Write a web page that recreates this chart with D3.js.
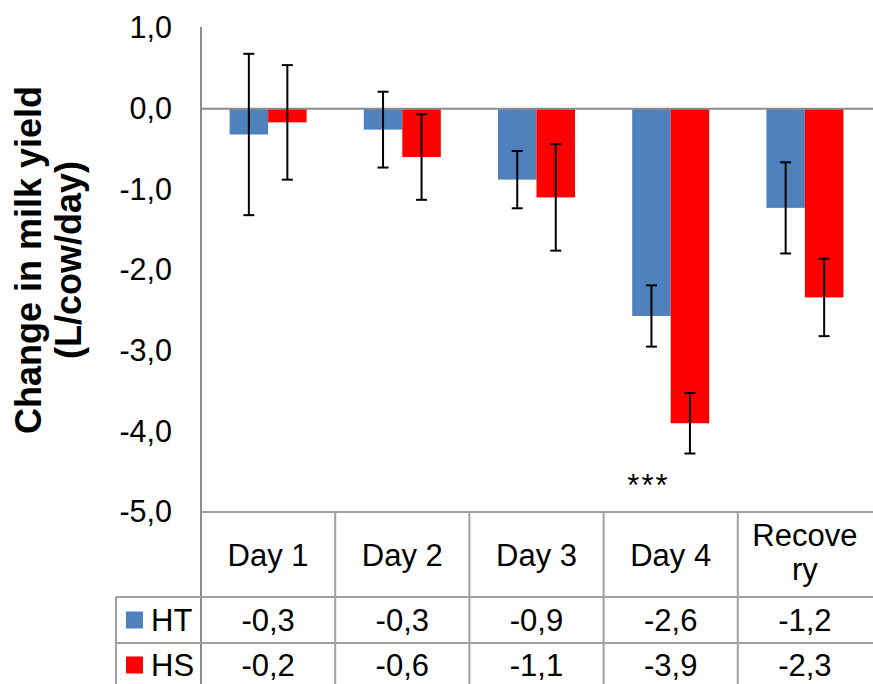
<!DOCTYPE html>
<html>
<head>
<meta charset="utf-8">
<script src="https://cdn.jsdelivr.net/npm/d3@7/dist/d3.min.js"></script>
<style>
  html, body { margin: 0; padding: 0; background: #fff; }
  svg { display: block; }
  text { font-family: "Liberation Sans", Arial, sans-serif; fill: #000; }
</style>
</head>
<body>
<svg id="chart" width="873" height="684"></svg>
<script>
// ---- data ----
const categories = ["Day 1", "Day 2", "Day 3", "Day 4", "Recovery"];
const categoryLabelLines = [["Day 1"], ["Day 2"], ["Day 3"], ["Day 4"], ["Recove", "ry"]];
const seriesNames = ["HT", "HS"];
const seriesColors = ["#4F81BD", "#FF0000"];
const htValues = [-0.32, -0.26, -0.88, -2.57, -1.23];
const hsValues = [-0.17, -0.60, -1.10, -3.90, -2.34];
const htErrors = [1.00, 0.47, 0.355, 0.38, 0.565];
const hsErrors = [0.71, 0.53, 0.66, 0.375, 0.48];
const yTicks = [1, 0, -1, -2, -3, -4, -5];
const yTitleLines = ["Change in milk yield", "(L/cow/day)"];
const annotations = [{ category: "Day 4", series: "HT", value: -4.58, label: "***" }];

// ---- build ----
const seriesValues = [htValues, hsValues];
const seriesErrors = [htErrors, hsErrors];
const rows = [];
seriesNames.forEach((s, si) => {
  categories.forEach((c, ci) => {
    rows.push({ series: s, si, category: c, value: seriesValues[si][ci], err: seriesErrors[si][ci] });
  });
});

const svg = d3.select("#chart");
const plotLeft = 201, plotRight = 872, plotTop = 28, plotBottom = 512;
const tableRows = [512, 597, 643, 689];
const legendLeft = 116;

const locale = d3.formatLocale({ decimal: ",", thousands: ".", grouping: [3], currency: ["", ""], minus: "-" });
const fmt = locale.format(".1f");

const y = d3.scaleLinear().domain([-5, 1]).range([plotBottom, plotTop]);
const x0 = d3.scaleBand().domain(categories).range([plotLeft, plotRight]).padding(0);
const groupW = 77;
const x1 = d3.scaleBand().domain(seriesNames).range([0, groupW]).padding(0);
const groupOffset = (x0.bandwidth() - groupW) / 2;

// bars
svg.append("g").selectAll("rect").data(rows).join("rect")
  .attr("x", d => x0(d.category) + groupOffset + x1(d.series))
  .attr("width", x1.bandwidth())
  .attr("y", d => Math.min(y(0), y(d.value)))
  .attr("height", d => Math.abs(y(d.value) - y(0)))
  .attr("fill", d => seriesColors[d.si]);

// zero line
svg.append("line")
  .attr("x1", plotLeft).attr("x2", 873)
  .attr("y1", y(0)).attr("y2", y(0))
  .attr("stroke", "#8C8C8C").attr("stroke-width", 2);

// error bars
const eb = svg.append("g").attr("stroke", "#000").attr("stroke-width", 2);
rows.forEach(d => {
  const cx = x0(d.category) + groupOffset + x1(d.series) + x1.bandwidth() / 2;
  const yt = y(d.value + d.err), yb = y(d.value - d.err);
  eb.append("line").attr("x1", cx).attr("x2", cx).attr("y1", yt).attr("y2", yb);
  eb.append("line").attr("x1", cx - 5.5).attr("x2", cx + 5.5).attr("y1", yt).attr("y2", yt);
  eb.append("line").attr("x1", cx - 5.5).attr("x2", cx + 5.5).attr("y1", yb).attr("y2", yb);
});

// annotations
annotations.forEach(a => {
  const cx = x0(a.category) + groupOffset + x1(a.series) + x1.bandwidth() / 2 - 3;
  svg.append("text")
    .attr("x", cx).attr("y", y(a.value) + 18)
    .attr("text-anchor", "middle")
    .attr("font-size", 31).attr("letter-spacing", 2)
    .text(a.label);
});

// y axis
const yAxis = svg.append("g")
  .attr("transform", `translate(${plotLeft},0)`)
  .call(d3.axisLeft(y).tickValues(yTicks).tickSize(0).tickPadding(29).tickFormat(fmt));
yAxis.select(".domain").remove();
yAxis.selectAll("text")
  .attr("font-family", "Liberation Sans, Arial, sans-serif")
  .attr("font-size", 30.5).attr("fill", "#000");

// axis line (continues through table)
svg.append("line")
  .attr("x1", plotLeft).attr("x2", plotLeft)
  .attr("y1", plotTop - 1).attr("y2", 684)
  .attr("stroke", "#8C8C8C").attr("stroke-width", 2);

// y title
const yt = svg.append("g").attr("transform", "translate(0,260) rotate(-90)");
yTitleLines.forEach((t, i) => {
  yt.append("text")
    .attr("x", 0).attr("y", 41 + i * 40)
    .attr("text-anchor", "middle")
    .attr("font-size", 36).attr("font-weight", "bold")
    .text(t);
});

// data table
const grid = svg.append("g").attr("stroke", "#A0A0A0").attr("stroke-width", 2);
grid.append("line").attr("x1", plotLeft).attr("x2", 873).attr("y1", tableRows[0]).attr("y2", tableRows[0]);
grid.append("line").attr("x1", legendLeft).attr("x2", 873).attr("y1", tableRows[1]).attr("y2", tableRows[1]);
grid.append("line").attr("x1", legendLeft).attr("x2", 873).attr("y1", tableRows[2]).attr("y2", tableRows[2]);
grid.append("line").attr("x1", legendLeft).attr("x2", legendLeft).attr("y1", tableRows[1]).attr("y2", 684);
categories.slice(1).forEach(c => {
  grid.append("line").attr("x1", x0(c)).attr("x2", x0(c)).attr("y1", tableRows[0]).attr("y2", 684);
});

// category header
const headCenter = (tableRows[0] + tableRows[1]) / 2;
categories.forEach((c, ci) => {
  const lines = categoryLabelLines[ci];
  const cx = x0(c) + x0.bandwidth() / 2;
  lines.forEach((l, li) => {
    const off = lines.length === 1 ? 0 : (li === 0 ? -19.5 : 14.8);
    svg.append("text")
      .attr("x", cx).attr("y", headCenter + off)
      .attr("dy", "0.36em")
      .attr("text-anchor", "middle")
      .attr("font-size", 31)
      .text(l);
  });
});

// series rows
seriesNames.forEach((s, si) => {
  const rc = (tableRows[si + 1] + tableRows[si + 2]) / 2 - (si === 1 ? 1 : 0);
  svg.append("rect")
    .attr("x", 126).attr("y", rc - 8.5)
    .attr("width", 17).attr("height", 17)
    .attr("fill", seriesColors[si]);
  svg.append("text")
    .attr("x", 151).attr("y", rc).attr("dy", "0.36em")
    .attr("font-size", 31)
    .text(s);
  categories.forEach((c, ci) => {
    svg.append("text")
      .attr("x", x0(c) + x0.bandwidth() / 2).attr("y", rc).attr("dy", "0.36em")
      .attr("text-anchor", "middle")
      .attr("font-size", 31)
      .text(fmt(seriesValues[si][ci]));
  });
});
</script>
</body>
</html>
